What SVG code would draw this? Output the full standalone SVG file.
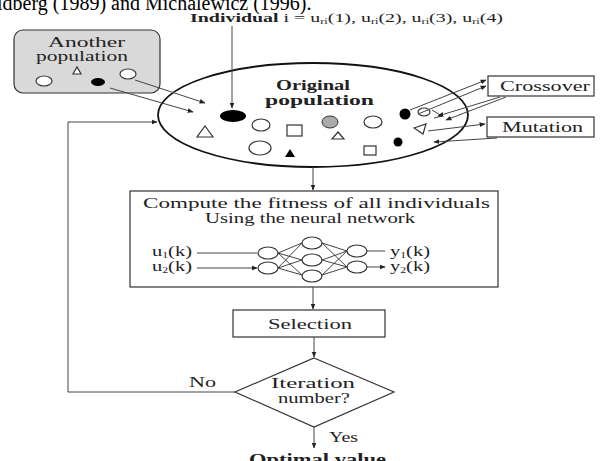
<svg xmlns="http://www.w3.org/2000/svg" width="600" height="461" viewBox="0 0 600 461">
<defs>
<marker id="ah" viewBox="0 0 10 10" refX="9" refY="5" markerWidth="6" markerHeight="6" orient="auto-start-reverse"><path d="M0,1 L10,5 L0,9 z" fill="#222"/></marker>
<style>
text{font-family:"Liberation Serif","Times New Roman",serif;fill:#222}
.b{font-weight:bold}
.box{fill:#fff;stroke:#333;stroke-width:1.2}
.ln{fill:none;stroke:#444;stroke-width:1}
.sh{fill:#fff;stroke:#333;stroke-width:1.2}
.blk{fill:#000}
</style>
</defs>
<rect width="600" height="461" fill="#fff"/>
<text x="-3" y="10" font-size="20" style="fill:#000">ldberg (1989) and Michalewicz (1996).</text>
<text x="190" y="22" font-size="13" textLength="313" lengthAdjust="spacingAndGlyphs"><tspan class="b">Individual</tspan> i = u<tspan font-size="8" dy="2">ri</tspan><tspan dy="-2">(1), u</tspan><tspan font-size="8" dy="2">ri</tspan><tspan dy="-2">(2), u</tspan><tspan font-size="8" dy="2">ri</tspan><tspan dy="-2">(3), u</tspan><tspan font-size="8" dy="2">ri</tspan><tspan dy="-2">(4)</tspan></text>

<g id="another">
<rect x="14" y="30" width="146" height="63" rx="9" fill="#d9d9d9" stroke="#333" stroke-width="1.2"/>
<text x="48" y="47" font-size="14" textLength="77" lengthAdjust="spacingAndGlyphs">Another</text>
<text x="36" y="61" font-size="14" textLength="92" lengthAdjust="spacingAndGlyphs">population</text>
<ellipse cx="44" cy="81" rx="8" ry="5" class="sh"/>
<path d="M73,74 L81,74 L77,67 z" class="sh"/>
<ellipse cx="98" cy="82" rx="7" ry="4" class="blk"/>
<ellipse cx="128" cy="74" rx="8" ry="5" class="sh"/>
</g>

<g id="original">
<ellipse cx="313" cy="115" rx="155" ry="52" fill="#fff" stroke="#111" stroke-width="1.8"/>
<text x="276" y="90" font-size="14" class="b" textLength="74" lengthAdjust="spacingAndGlyphs">Original</text>
<text x="265" y="105" font-size="14" class="b" textLength="109" lengthAdjust="spacingAndGlyphs">population</text>
<ellipse cx="233" cy="116" rx="13" ry="6" class="blk"/>
<path d="M197,137 L213,137 L205,126 z" class="sh"/>
<ellipse cx="261" cy="125" rx="9" ry="6" class="sh"/>
<rect x="287" y="125" width="15" height="11" class="sh"/>
<ellipse cx="330" cy="122" rx="8" ry="6" fill="#aaa" stroke="#333"/>
<path d="M332,139 L344,139 L338,132 z" class="sh"/>
<ellipse cx="373" cy="122" rx="9" ry="6" class="sh"/>
<ellipse cx="260" cy="148" rx="11" ry="7" class="sh"/>
<path d="M285,157 L295,157 L290,149 z" class="blk"/>
<rect x="364" y="146" width="12" height="9" class="sh"/>
<circle cx="405" cy="114" r="5.5" class="blk"/>
<ellipse cx="424" cy="112" rx="6" ry="4" class="sh"/>
<path d="M432,110 L442,116 L434,118" class="ln"/>
<path d="M414,128 L426,124 L423,134 z" class="sh"/>
<circle cx="398" cy="142" r="4.5" class="blk"/>
</g>

<g id="crossover">
<rect x="488" y="76" width="106" height="20" class="box"/>
<text x="500" y="91" font-size="15" textLength="90" lengthAdjust="spacingAndGlyphs">Crossover</text>
</g>
<g id="mutation">
<rect x="487" y="117" width="107" height="20" class="box"/>
<text x="502" y="132" font-size="15" textLength="81" lengthAdjust="spacingAndGlyphs">Mutation</text>
</g>

<g id="compute">
<rect x="130" y="191" width="368" height="96" class="box"/>
<text x="143" y="208" font-size="15" textLength="347" lengthAdjust="spacingAndGlyphs">Compute the fitness of all individuals</text>
<text x="205" y="223" font-size="15" textLength="210" lengthAdjust="spacingAndGlyphs">Using the neural network</text>
<text x="152" y="256" font-size="14" textLength="40" lengthAdjust="spacingAndGlyphs">u<tspan font-size="8" dy="2">1</tspan><tspan dy="-2">(k)</tspan></text>
<text x="152" y="271" font-size="14" textLength="40" lengthAdjust="spacingAndGlyphs">u<tspan font-size="8" dy="2">2</tspan><tspan dy="-2">(k)</tspan></text>
<text x="390" y="256" font-size="14" textLength="40" lengthAdjust="spacingAndGlyphs">y<tspan font-size="8" dy="2">1</tspan><tspan dy="-2">(k)</tspan></text>
<text x="390" y="271" font-size="14" textLength="40" lengthAdjust="spacingAndGlyphs">y<tspan font-size="8" dy="2">2</tspan><tspan dy="-2">(k)</tspan></text>
<g class="ln" stroke-width="0.8">
<path d="M278,253 L302,243 M278,253 L302,260 M278,253 L302,275 M278,268 L302,243 M278,268 L302,260 M278,268 L302,275"/>
<path d="M322,243 L347,251 M322,243 L347,267 M322,260 L347,251 M322,260 L347,267 M322,275 L347,251 M322,275 L347,267"/>
</g>
<path d="M197,253 L257,253 M197,268 L257,268" class="ln" marker-end="url(#ah)"/>
<path d="M367,251 L385,251 M367,267 L385,267" class="ln" marker-end="url(#ah)"/>
<ellipse cx="268" cy="253" rx="10" ry="6" class="sh"/>
<ellipse cx="268" cy="268" rx="10" ry="6" class="sh"/>
<ellipse cx="312" cy="243" rx="10" ry="6" class="sh"/>
<ellipse cx="312" cy="260" rx="10" ry="6" class="sh"/>
<ellipse cx="312" cy="276" rx="10" ry="6" class="sh"/>
<ellipse cx="357" cy="251" rx="10" ry="6" class="sh"/>
<ellipse cx="357" cy="267" rx="10" ry="6" class="sh"/>
</g>

<g id="selection">
<rect x="233" y="310" width="152" height="27" class="box"/>
<text x="268" y="329" font-size="15" textLength="84" lengthAdjust="spacingAndGlyphs">Selection</text>
</g>

<g id="decision">
<path d="M314,358 L394,392 L314,427 L235,392 z" class="box"/>
<text x="271" y="388" font-size="15" textLength="84" lengthAdjust="spacingAndGlyphs">Iteration</text>
<text x="278" y="403" font-size="15" textLength="72" lengthAdjust="spacingAndGlyphs">number?</text>
</g>

<text x="189" y="387" font-size="15" textLength="27" lengthAdjust="spacingAndGlyphs">No</text>
<text x="329" y="442" font-size="15" textLength="29" lengthAdjust="spacingAndGlyphs">Yes</text>
<text x="249" y="465" font-size="16" class="b" textLength="137" lengthAdjust="spacingAndGlyphs">Optimal value</text>

<g id="connectors" class="ln" marker-end="url(#ah)">
<path d="M232,26 L232,108"/>
<path d="M135,80 L205,103"/>
<path d="M110,88 L193,112"/>
<path d="M410,110 L486,80"/>
<path d="M418,114 L486,86"/>
<path d="M500,97 L438,116"/>
<path d="M506,97 L446,120"/>
<path d="M428,131 L485,124"/>
<path d="M497,138 L434,142"/>
<path d="M313,167 L313,190"/>
<path d="M313,287 L313,309"/>
<path d="M314,337 L314,357"/>
<path d="M235,392 L68,392 L68,122 L157,122"/>
<path d="M314,427 L314,448"/>
</g>
</svg>
